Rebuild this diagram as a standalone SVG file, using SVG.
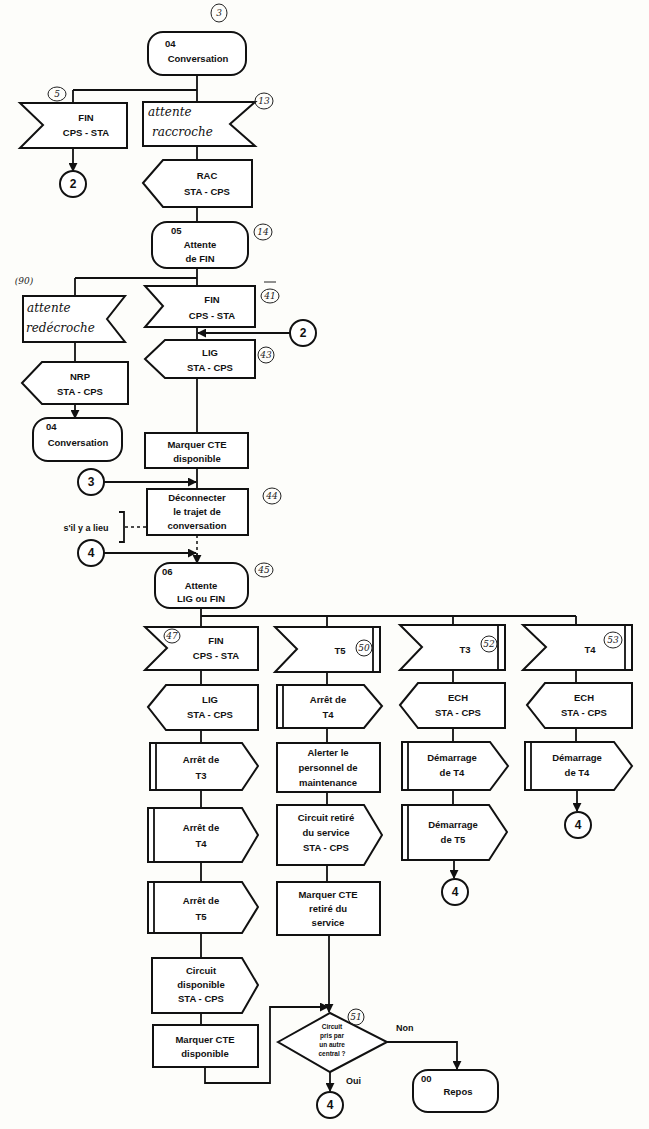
<svg xmlns="http://www.w3.org/2000/svg" width="649" height="1129" viewBox="0 0 649 1129">
<style>
.s{fill:#fff;stroke:#111;stroke-width:2}
.l{fill:none;stroke:#111;stroke-width:1.8}
.d{fill:none;stroke:#111;stroke-width:1.5;stroke-dasharray:3 3}
.t{font-family:"Liberation Sans",Arial,sans-serif;font-size:9.5px;font-weight:bold;fill:#111;text-anchor:middle}
.ts{font-family:"Liberation Sans",Arial,sans-serif;font-size:6.5px;font-weight:bold;fill:#111;text-anchor:middle}
.tl{font-family:"Liberation Sans",Arial,sans-serif;font-size:9.5px;font-weight:bold;fill:#111}
.h{font-family:"DejaVu Serif",serif;font-style:italic;font-size:12px;fill:#111}
.a{font-family:"DejaVu Serif",serif;font-style:italic;font-size:9px;fill:#222;text-anchor:middle}
.ae{fill:none;stroke:#222;stroke-width:1}
.c{font-family:"Liberation Sans",Arial,sans-serif;font-size:12px;font-weight:bold;fill:#111;text-anchor:middle}
</style>
<defs>
<marker id="ar" viewBox="0 0 10 10" refX="9" refY="5" markerWidth="5" markerHeight="5" orient="auto"><path d="M0,0 L10,5 L0,10 z" fill="#111"/></marker>
</defs>
<rect width="649" height="1129" fill="#fdfdfa"/>

<g id="connectors">
<path class="l" d="M197,75 V90 M73,90 H197 M73,90 V103 M197,90 V102"/>
<path class="l" d="M73,148 V171" marker-end="url(#ar)"/>
<path class="l" d="M197,146 V160 M197,207 V222 M197,268 V278 M75,278 H197 M75,278 V296 M197,278 V286"/>
<path class="l" d="M75,342 V362"/>
<path class="l" d="M75,404 V418" marker-end="url(#ar)"/>
<path class="l" d="M197,327 V340"/>
<path class="l" d="M290,333 H198" marker-end="url(#ar)"/>
<path class="l" d="M197,378 V433 M197,468 V489"/>
<path class="l" d="M104,482 H196" marker-end="url(#ar)"/>
<path class="d" d="M197,535 V553"/>
<path class="l" d="M104,553 H196" marker-end="url(#ar)"/>
<path class="l" d="M197,553 V563" marker-end="url(#ar)"/>
<path class="d" d="M125,527 H147"/>
<path class="l" d="M119,512 H124 V542 H119"/>
<path class="l" d="M201,608 V616 M201,616 H576 M201,616 V627 M327,616 V627 M453,616 V625 M576,616 V625"/>
<path class="l" d="M201,670 V685 M201,730 V743 M201,790 V808 M201,862 V882 M201,933 V958 M201,1013 V1025"/>
<path class="l" d="M205,1067 V1083 H270 V1007 H328" marker-end="url(#ar)"/>
<path class="l" d="M327,672 V685 M327,728 V743 M327,792 V805 M327,865 V882"/>
<path class="l" d="M329,935 V1012" marker-end="url(#ar)"/>
<path class="l" d="M387,1042 H457 V1069" marker-end="url(#ar)"/>
<path class="l" d="M330,1072 V1091" marker-end="url(#ar)"/>
<path class="l" d="M453,670 V683 M453,728 V742 M453,790 V805"/>
<path class="l" d="M454,860 V878" marker-end="url(#ar)"/>
<path class="l" d="M576,670 V683 M576,728 V742"/>
<path class="l" d="M577,790 V811" marker-end="url(#ar)"/>
</g>

<g id="n_conv04">
<rect class="s" x="148" y="32" width="98" height="43" rx="15"/>
<text class="tl" x="165" y="47">04</text>
<text class="t" x="198" y="62">Conversation</text>
</g>
<g id="n_fin1">
<polygon class="s" points="20,103 127,103 127,148 20,148 43,125"/>
<text class="t" x="86" y="121">FIN</text>
<text class="t" x="86" y="136">CPS - STA</text>
</g>
<g id="n_c2a"><circle class="s" cx="73" cy="184" r="13"/><text class="c" x="73" y="188">2</text></g>
<g id="n_raccroche">
<polygon class="s" points="143,102 255,102 230,124 255,146 143,146"/>
<text class="h" x="148" y="116">attente</text>
<text class="h" x="152" y="136">raccroche</text>
</g>
<g id="n_rac">
<polygon class="s" points="143,183 163,160 252,160 252,207 163,207"/>
<text class="t" x="207" y="179">RAC</text>
<text class="t" x="207" y="195">STA - CPS</text>
</g>
<g id="n_att05">
<rect class="s" x="152" y="222" width="96" height="46" rx="15"/>
<text class="tl" x="171" y="234">05</text>
<text class="t" x="200" y="248">Attente</text>
<text class="t" x="200" y="262">de FIN</text>
</g>
<g id="n_redecroche">
<polygon class="s" points="23,296 125,296 107,319 125,342 23,342"/>
<text class="h" x="27" y="312">attente</text>
<text class="h" x="26" y="332">redécroche</text>
</g>
<g id="n_nrp">
<polygon class="s" points="22,383 42,362 128,362 128,404 42,404"/>
<text class="t" x="80" y="380">NRP</text>
<text class="t" x="80" y="395">STA - CPS</text>
</g>
<g id="n_conv04b">
<rect class="s" x="33" y="418" width="89" height="43" rx="15"/>
<text class="tl" x="46" y="430">04</text>
<text class="t" x="78" y="446">Conversation</text>
</g>
<g id="n_fin2">
<polygon class="s" points="145,286 255,286 255,327 145,327 163,306"/>
<text class="t" x="212" y="303">FIN</text>
<text class="t" x="212" y="319">CPS - STA</text>
</g>
<g id="n_c2b"><circle class="s" cx="303" cy="333" r="13"/><text class="c" x="303" y="337">2</text></g>
<g id="n_lig1">
<polygon class="s" points="145,359 165,340 255,340 255,378 165,378"/>
<text class="t" x="210" y="356">LIG</text>
<text class="t" x="210" y="371">STA - CPS</text>
</g>
<g id="n_marq1">
<rect class="s" x="145" y="433" width="103" height="35"/>
<text class="t" x="197" y="448">Marquer CTE</text>
<text class="t" x="197" y="462">disponible</text>
</g>
<g id="n_c3"><circle class="s" cx="91" cy="482" r="13"/><text class="c" x="91" y="486">3</text></g>
<g id="n_decon">
<rect class="s" x="147" y="489" width="101" height="46"/>
<text class="t" x="197" y="501">Déconnecter</text>
<text class="t" x="197" y="515">le trajet de</text>
<text class="t" x="197" y="529">conversation</text>
</g>
<g id="n_lieu"><text class="t" x="86" y="531" style="font-size:9px">s'il y a lieu</text></g>
<g id="n_c4a"><circle class="s" cx="91" cy="553" r="13"/><text class="c" x="91" y="557">4</text></g>
<g id="n_att06">
<rect class="s" x="155" y="563" width="93" height="45" rx="15"/>
<text class="tl" x="162" y="575">06</text>
<text class="t" x="201" y="589">Attente</text>
<text class="t" x="201" y="602">LIG ou FIN</text>
</g>

<g id="n_fin3">
<polygon class="s" points="145,627 258,627 258,670 145,670 167,648"/>
<text class="t" x="216" y="644">FIN</text>
<text class="t" x="216" y="659">CPS - STA</text>
</g>
<g id="n_lig2">
<polygon class="s" points="148,707 166,685 258,685 258,730 166,730"/>
<text class="t" x="210" y="703">LIG</text>
<text class="t" x="210" y="718">STA - CPS</text>
</g>
<g id="n_arret3">
<polygon class="s" points="150,743 242,743 258,766 242,790 150,790"/>
<line class="l" x1="156" y1="743" x2="156" y2="790"/>
<text class="t" x="201" y="763">Arrêt de</text>
<text class="t" x="201" y="779">T3</text>
</g>
<g id="n_arret4">
<polygon class="s" points="148,808 242,808 258,835 242,862 148,862"/>
<line class="l" x1="154" y1="808" x2="154" y2="862"/>
<text class="t" x="201" y="831">Arrêt de</text>
<text class="t" x="201" y="847">T4</text>
</g>
<g id="n_arret5">
<polygon class="s" points="148,882 242,882 258,907 242,933 148,933"/>
<line class="l" x1="154" y1="882" x2="154" y2="933"/>
<text class="t" x="201" y="904">Arrêt de</text>
<text class="t" x="201" y="920">T5</text>
</g>
<g id="n_circdisp">
<polygon class="s" points="152,958 242,958 258,985 242,1013 152,1013"/>
<text class="t" x="201" y="974">Circuit</text>
<text class="t" x="201" y="988">disponible</text>
<text class="t" x="201" y="1002">STA - CPS</text>
</g>
<g id="n_marq2">
<rect class="s" x="153" y="1025" width="105" height="42"/>
<text class="t" x="205" y="1043">Marquer CTE</text>
<text class="t" x="205" y="1057">disponible</text>
</g>

<g id="n_t5">
<polygon class="s" points="275,627 380,627 380,672 275,672 297,649"/>
<line class="l" x1="373" y1="627" x2="373" y2="672"/>
<text class="t" x="340" y="654">T5</text>
</g>
<g id="n_arret4b">
<polygon class="s" points="277,685 364,685 382,706 364,728 277,728"/>
<line class="l" x1="283" y1="685" x2="283" y2="728"/>
<text class="t" x="328" y="703">Arrêt de</text>
<text class="t" x="328" y="718">T4</text>
</g>
<g id="n_alerter">
<rect class="s" x="277" y="743" width="103" height="49"/>
<text class="t" x="328" y="756">Alerter le</text>
<text class="t" x="328" y="771">personnel de</text>
<text class="t" x="328" y="786">maintenance</text>
</g>
<g id="n_retire">
<polygon class="s" points="277,805 364,805 382,835 364,865 277,865"/>
<text class="t" x="326" y="821">Circuit retiré</text>
<text class="t" x="326" y="836">du service</text>
<text class="t" x="326" y="851">STA - CPS</text>
</g>
<g id="n_marq3">
<rect class="s" x="277" y="882" width="103" height="53"/>
<text class="t" x="328" y="898">Marquer CTE</text>
<text class="t" x="328" y="912">retiré du</text>
<text class="t" x="328" y="926">service</text>
</g>
<g id="n_dec">
<polygon class="s" points="278,1042 330,1013 387,1042 330,1072"/>
<text class="ts" x="332" y="1029">Circuit</text>
<text class="ts" x="332" y="1038">pris par</text>
<text class="ts" x="332" y="1047">un autre</text>
<text class="ts" x="332" y="1056">central ?</text>
</g>
<g id="n_non"><text class="tl" x="396" y="1031" style="font-size:9px">Non</text></g>
<g id="n_oui"><text class="tl" x="346" y="1084" style="font-size:9px">Oui</text></g>
<g id="n_c4d"><circle class="s" cx="330" cy="1105" r="13"/><text class="c" x="330" y="1109">4</text></g>
<g id="n_repos">
<rect class="s" x="413" y="1070" width="85" height="42" rx="15"/>
<text class="tl" x="421" y="1082">00</text>
<text class="t" x="458" y="1095">Repos</text>
</g>

<g id="n_t3">
<polygon class="s" points="400,625 505,625 505,670 400,670 422,647"/>
<line class="l" x1="498" y1="625" x2="498" y2="670"/>
<text class="t" x="465" y="653">T3</text>
</g>
<g id="n_ech1">
<polygon class="s" points="400,705 418,683 505,683 505,728 418,728"/>
<text class="t" x="458" y="701">ECH</text>
<text class="t" x="458" y="716">STA - CPS</text>
</g>
<g id="n_dem4a">
<polygon class="s" points="402,742 490,742 508,766 490,790 402,790"/>
<line class="l" x1="408" y1="742" x2="408" y2="790"/>
<text class="t" x="452" y="761">Démarrage</text>
<text class="t" x="452" y="776">de T4</text>
</g>
<g id="n_dem5">
<polygon class="s" points="402,805 489,805 507,832 489,860 402,860"/>
<line class="l" x1="408" y1="805" x2="408" y2="860"/>
<text class="t" x="453" y="828">Démarrage</text>
<text class="t" x="453" y="843">de T5</text>
</g>
<g id="n_c4b"><circle class="s" cx="455" cy="892" r="13"/><text class="c" x="455" y="896">4</text></g>

<g id="n_t4">
<polygon class="s" points="523,625 632,625 632,670 523,670 546,647"/>
<line class="l" x1="625" y1="625" x2="625" y2="670"/>
<text class="t" x="590" y="653">T4</text>
</g>
<g id="n_ech2">
<polygon class="s" points="527,705 545,683 632,683 632,728 545,728"/>
<text class="t" x="584" y="701">ECH</text>
<text class="t" x="584" y="716">STA - CPS</text>
</g>
<g id="n_dem4b">
<polygon class="s" points="525,742 614,742 632,766 614,790 525,790"/>
<line class="l" x1="531" y1="742" x2="531" y2="790"/>
<text class="t" x="577" y="761">Démarrage</text>
<text class="t" x="577" y="776">de T4</text>
</g>
<g id="n_c4c"><circle class="s" cx="578" cy="825" r="13"/><text class="c" x="578" y="829">4</text></g>

<g id="annotations">
<ellipse class="ae" cx="219" cy="13" rx="8" ry="9"/><text class="a" x="219" y="16">3</text>
<ellipse class="ae" cx="57" cy="94" rx="9" ry="7"/><text class="a" x="57" y="97">5</text>
<ellipse class="ae" cx="264" cy="101" rx="9" ry="8"/><text class="a" x="264" y="104">13</text>
<ellipse class="ae" cx="263" cy="232" rx="9" ry="8"/><text class="a" x="263" y="235">14</text>
<text class="a" x="24" y="284">(90)</text>
<ellipse class="ae" cx="270" cy="296" rx="9" ry="7"/><text class="a" x="270" y="299">41</text>
<line class="ae" x1="264" y1="282" x2="276" y2="282"/>
<ellipse class="ae" cx="266" cy="355" rx="8" ry="8"/><text class="a" x="266" y="358">43</text>
<ellipse class="ae" cx="272" cy="496" rx="9" ry="8"/><text class="a" x="272" y="499">44</text>
<ellipse class="ae" cx="264" cy="570" rx="9" ry="7"/><text class="a" x="264" y="573">45</text>
<ellipse class="ae" cx="172" cy="636" rx="8" ry="7"/><text class="a" x="172" y="639">47</text>
<ellipse class="ae" cx="364" cy="648" rx="8" ry="8"/><text class="a" x="364" y="651">50</text>
<ellipse class="ae" cx="489" cy="644" rx="8" ry="8"/><text class="a" x="489" y="647">52</text>
<ellipse class="ae" cx="613" cy="640" rx="9" ry="8"/><text class="a" x="613" y="643">53</text>
<ellipse class="ae" cx="356" cy="1017" rx="8" ry="8"/><text class="a" x="356" y="1020">51</text>
</g>
</svg>
